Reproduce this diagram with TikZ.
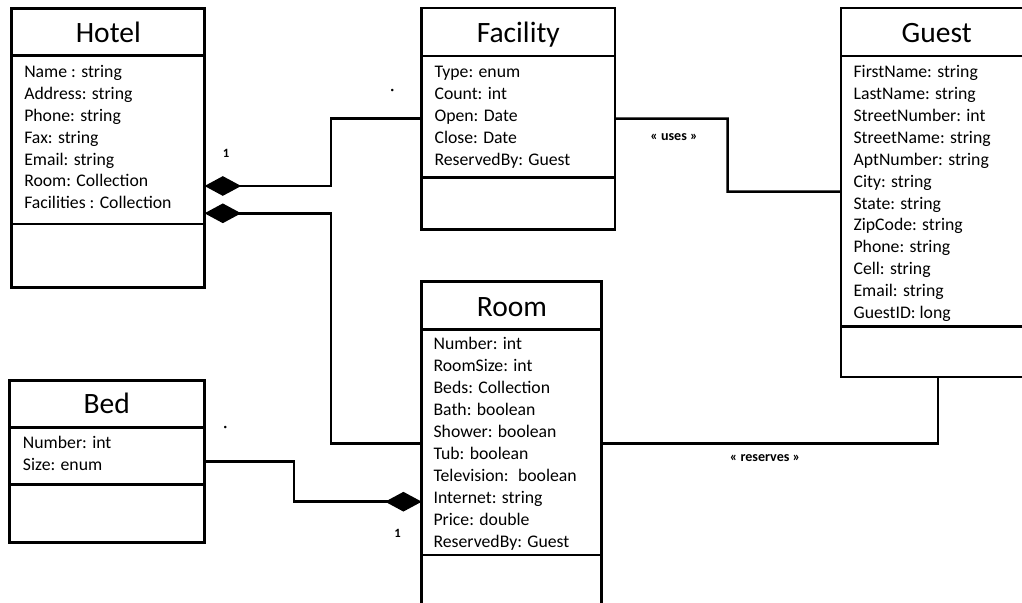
\documentclass[tikz,border=0pt]{standalone}
\usepackage{fontspec}
\setmainfont{Carlito}
\usetikzlibrary{arrows.meta}

\begin{document}
\begin{tikzpicture}[x=0.025cm, y=-0.025cm,
  classbox/.style={draw, line width=1.8pt, anchor=north west, inner sep=0pt, outer sep=0pt},
  classname/.style={anchor=base, inner sep=0pt, font=\fontsize{21}{25}\selectfont},
  attr/.style={anchor=base west, inner sep=0pt, font=\fontsize{12.6}{15}\selectfont},
  link/.style={line width=1.8pt},
  owns/.style={link, {Diamond[length=26pt, width=14pt]}-},
  mult/.style={inner sep=0pt, font=\fontsize{9}{10}\selectfont\bfseries},
  stardot/.style={inner sep=0pt, font=\fontsize{5}{5}\selectfont},
  stereo/.style={inner sep=0pt, font=\fontsize{10}{11}\selectfont\bfseries}]
  \clip (0,0) rectangle (1022,603);
  \def\Dy{21.9};
  \def\Xbend{331};
  \def\Xbed{294};
  \def\Xuses{727.7};

  % Hotel
  \node[classbox, minimum width=4.82cm, minimum height=6.975cm] (hotel) at (11.7,8.3) {};
  \node[classname] (hotelname) at (108.3,43) {Hotel};
  \draw[link] (hotel.west |- 0,55.7) -- (hotel.east |- 0,55.7);
  \draw[link] (hotel.west |- 0,224) -- (hotel.east |- 0,224);
  \foreach \t [count=\i] in {Name : string, Address: string, Phone: string, Fax: string,
      Email: string, Room: Collection, Facilities : Collection}
    \node[attr] (hotel-\i) at (24, 77.5+\Dy*\i-\Dy) {\t};

  % Facility
  \node[classbox, minimum width=4.83cm, minimum height=5.53cm] (facility) at (421.7,8) {};
  \node[classname] (facilityname) at (518.3,43) {Facility};
  \draw[link] (facility.west |- 0,56) -- (facility.east |- 0,56);
  \draw[link] (facility.west |- 0,177.3) -- (facility.east |- 0,177.3);
  \foreach \t [count=\i] in {Type: enum, Count: int, Open: Date, Close: Date, ReservedBy: Guest}
    \node[attr] (facility-\i) at (434.3, 77.7+22*\i-22) {\t};

  % Guest
  \node[classbox, minimum width=4.85cm, minimum height=9.22cm] (guest) at (841,8) {};
  \node[classname] (guestname) at (936.7,43) {Guest};
  \draw[link] (guest.west |- 0,56) -- (guest.east |- 0,56);
  \draw[link] (guest.west |- 0,326.7) -- (guest.east |- 0,326.7);
  \foreach \t [count=\i] in {FirstName: string, LastName: string, StreetNumber: int,
      StreetName: string, AptNumber: string, City: string, State: string, ZipCode: string,
      Phone: string, Cell: string, Email: string, GuestID: long}
    \node[attr] (guest-\i) at (853.3, 77.7+\Dy*\i-\Dy) {\t};

  % Room
  \node[classbox, minimum width=4.5cm, minimum height=8.5cm] (room) at (421.7,281.7) {};
  \node[classname] (roomname) at (512,316.7) {Room};
  \draw[link] (room.west |- 0,329.3) -- (room.east |- 0,329.3);
  \draw[link] (room.west |- 0,555) -- (room.east |- 0,555);
  \foreach \t [count=\i] in {Number: int, RoomSize: int, Beds: Collection, Bath: boolean,
      Shower: boolean, Tub: boolean, Television:~ boolean, Internet: string, Price: double,
      ReservedBy: Guest}
    \node[attr] (room-\i) at (433.3, 350+\Dy*\i-\Dy) {\t};

  % Bed
  \node[classbox, minimum width=4.885cm, minimum height=4.05cm] (bed) at (9.3,380.7) {};
  \node[classname] (bedname) at (106.7,414) {Bed};
  \draw[link] (bed.west |- 0,427.7) -- (bed.east |- 0,427.7);
  \draw[link] (bed.west |- 0,484.3) -- (bed.east |- 0,484.3);
  \foreach \t [count=\i] in {Number: int, Size: enum}
    \node[attr] (bed-\i) at (22.7, 448.3+\Dy*\i-\Dy) {\t};

  % associations
  \draw[owns] (hotel.east |- 0,186) -- (\Xbend,186) |- (facility.west);
  \draw[owns] (hotel.east |- 0,213.3) -- (\Xbend,213.3) |- (room.west |- 0,443.3);
  \draw[owns] (room.west |- 0,501.7) -- (\Xbed,501.7) |- (bed.east);
  \draw[link] (facility.east) -- (\Xuses,118.65) |- (guest.west |- 0,191.7);
  \draw[link] (room.east |- 0,443.3) -| (guest.south);

  \node[mult] (hotelone) at (226,153.3) {1};
  \node[stardot] (facilitystar) at (392.3,90.7) {\textbullet};
  \node[stardot] (bedstar) at (225.3,428.3) {\textbullet};
  \node[mult] (roomone) at (397.7,533.3) {1};
  \node[stereo] (uses) at (674,136.7) {« uses »};
  \node[stereo] (reserves) at (765,458) {« reserves »};
\end{tikzpicture}
\end{document}
